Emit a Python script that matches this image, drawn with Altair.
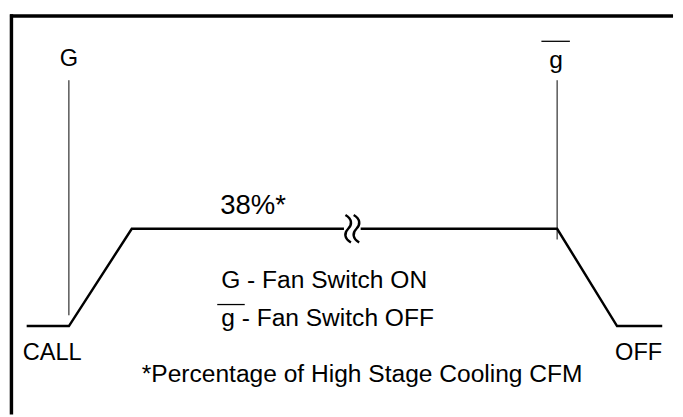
import altair as alt
import pandas as pd

# Fan profile: x = time position (read in picture px), y = % of high-stage cooling CFM
profile_x = [25, 68, 132, 348, 365, 565, 626, 672]
profile_y = [0, 0, 38, 38, 38, 38, 0, 0]
profile_seg = ["a", "a", "a", "a", "b", "b", "b", "b"]

# Thermostat event markers (G = fan switch on, g-bar = fan switch off)
event_x = [68, 565]
event_top = [96, 96]
event_bottom = [4.2, 33.8]

# Labels
label_text = ["G", "g", "38%*", "CALL", "OFF", "*Percentage of High Stage Cooling CFM"]
label_x = [68, 564, 255.5, 51, 648, 366.5]
label_y = [101.7, 100.7, 43.6, -13.4, -13.4, -21.9]
label_size = [24, 25, 28, 24, 24, 25]

legend_text = ["G - Fan Switch ON", "g - Fan Switch OFF"]
legend_x = [223, 223]
legend_y = [14.9, 0.2]

# Overbars on the "g" symbols
bar_x1 = [549, 219]
bar_x2 = [578, 247]
bar_y = [111.2, 8.4]

# Break symbol on the plateau
break_x = [356.5]
break_y = [38]

# Frame
frame_top = 121.1
frame_left = 9.5
X_DOM = [8, 683]
Y_DOM = [-34.5, 122.4]

xs = alt.Scale(domain=X_DOM, nice=False, zero=False)
ys = alt.Scale(domain=Y_DOM, nice=False, zero=False)

profile = pd.DataFrame({"t": profile_x, "v": profile_y, "seg": profile_seg,
                        "o": list(range(len(profile_x)))})
events = pd.DataFrame({"t": event_x, "top": event_top, "bottom": event_bottom})
labels = pd.DataFrame({"t": label_x, "v": label_y, "txt": label_text, "s": label_size})
legend = pd.DataFrame({"t": legend_x, "v": legend_y, "txt": legend_text})
bars = pd.DataFrame({"x1": bar_x1, "x2": bar_x2, "v": bar_y})
brk = pd.DataFrame({"t": break_x, "v": break_y})
frame_h = pd.DataFrame({"x1": [X_DOM[0]], "x2": [X_DOM[1]], "v": [frame_top]})
frame_v = pd.DataFrame({"t": [frame_left], "y1": [frame_top + 0.7], "y2": [Y_DOM[0]]})

FONT = "Liberation Sans"

line = alt.Chart(profile).mark_line(color="black", strokeWidth=2.5).encode(
    x=alt.X("t:Q", scale=xs, axis=None),
    y=alt.Y("v:Q", scale=ys, axis=None),
    detail="seg:N",
    order="o:Q",
)

ev = alt.Chart(events).mark_rule(color="black", strokeWidth=1).encode(
    x=alt.X("t:Q", scale=xs, axis=None),
    y=alt.Y("top:Q", scale=ys, axis=None),
    y2="bottom:Q",
)

txt = alt.Chart(labels).mark_text(font=FONT, color="black", align="center",
                                  baseline="alphabetic").encode(
    x=alt.X("t:Q", scale=xs, axis=None),
    y=alt.Y("v:Q", scale=ys, axis=None),
    text="txt:N",
    size=alt.Size("s:Q", scale=None, legend=None),
)

leg = alt.Chart(legend).mark_text(font=FONT, color="black", align="left",
                                  baseline="alphabetic", fontSize=25).encode(
    x=alt.X("t:Q", scale=xs, axis=None),
    y=alt.Y("v:Q", scale=ys, axis=None),
    text="txt:N",
)

ob = alt.Chart(bars).mark_rule(color="black", strokeWidth=1.3).encode(
    x=alt.X("x1:Q", scale=xs, axis=None),
    x2="x2:Q",
    y=alt.Y("v:Q", scale=ys, axis=None),
)

squiggle = ("M -0.5 -1 C 0 -0.7 0 -0.3 -0.3 0 C -0.6 0.3 -0.6 0.7 -0.1 1 "
            "M 0.1 -1 C 0.6 -0.7 0.6 -0.3 0.3 0 C 0 0.3 0 0.7 0.5 1")
br = alt.Chart(brk).mark_point(shape=squiggle, filled=False, color="black",
                               strokeWidth=2.5, size=784, opacity=1).encode(
    x=alt.X("t:Q", scale=xs, axis=None),
    y=alt.Y("v:Q", scale=ys, axis=None),
)

fh = alt.Chart(frame_h).mark_rule(color="black", strokeWidth=3.5).encode(
    x=alt.X("x1:Q", scale=xs, axis=None),
    x2="x2:Q",
    y=alt.Y("v:Q", scale=ys, axis=None),
)
fv = alt.Chart(frame_v).mark_rule(color="black", strokeWidth=3.5).encode(
    x=alt.X("t:Q", scale=xs, axis=None),
    y=alt.Y("y1:Q", scale=ys, axis=None),
    y2="y2:Q",
)

chart = alt.layer(fh, fv, ev, line, br, ob, txt, leg).properties(
    width=675, height=409, padding=0, background="white"
).configure_view(stroke=None)

chart.save("out.html", embed_options={"renderer": "svg", "actions": False})
